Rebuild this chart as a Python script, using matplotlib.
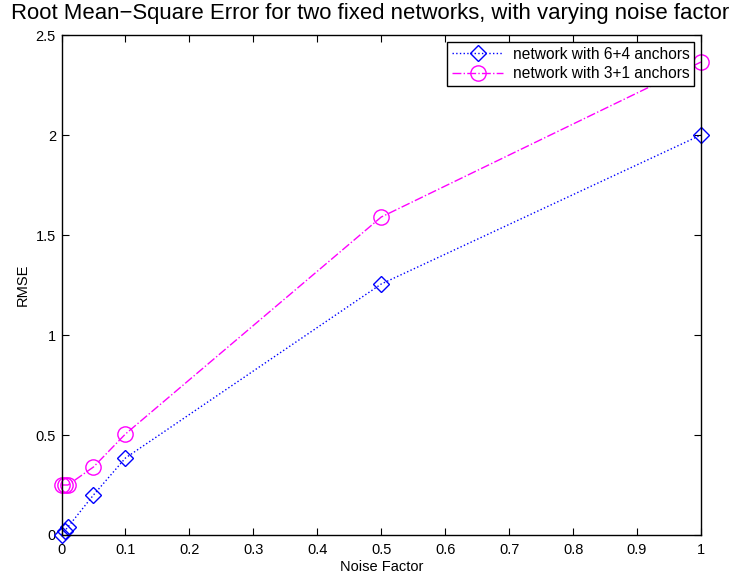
import matplotlib
matplotlib.use("Agg")
import matplotlib.pyplot as plt

plt.rcParams["font.family"] = ["Liberation Sans", "DejaVu Sans"]

# noise factors and RMSE for the two networks
noise = [0, 0.005, 0.01, 0.05, 0.1, 0.5, 1]
rmse_64 = [0.0, 0.02, 0.04, 0.2, 0.385, 1.255, 2.0]
rmse_31 = [0.25, 0.25, 0.25, 0.34, 0.505, 1.59, 2.365]

fig = plt.figure(figsize=(7.41, 5.77), dpi=100)
ax = fig.add_axes([0.083, 0.0728, 0.863, 0.8665])

ax.plot(noise, rmse_64, linestyle=":", color="blue", marker="D", markersize=8,
        markerfacecolor="none", markeredgecolor="blue", linewidth=1,
        clip_on=False, label="network with 6+4 anchors")
ax.plot(noise, rmse_31, linestyle="-.", color="magenta", marker="o", markersize=11,
        markerfacecolor="none", markeredgecolor="magenta", linewidth=1,
        clip_on=False, label="network with 3+1 anchors")

ax.set_xlim(0, 1)
ax.set_ylim(0, 2.5)
ax.set_xticks([i / 10 for i in range(11)])
ax.set_xticklabels(["0", "0.1", "0.2", "0.3", "0.4", "0.5", "0.6", "0.7", "0.8", "0.9", "1"])
ax.set_yticks([0, 0.5, 1, 1.5, 2, 2.5])
ax.set_yticklabels(["0", "0.5", "1", "1.5", "2", "2.5"])
ax.tick_params(direction="in", top=True, right=True, labelsize=10.5, length=5)
ax.tick_params(axis="x", pad=6)
ax.tick_params(axis="y", pad=4)
for s in ax.spines.values():
    s.set_linewidth(1)

ax.set_xlabel("Noise Factor", fontsize=10.5, labelpad=2)
ax.set_ylabel("RMSE", fontsize=10.5, labelpad=4)
fig.suptitle("Root Mean\u2212Square Error for two fixed networks, with varying noise factor",
             fontsize=15.9, x=0.5, y=0.995, va="top")

leg = ax.legend(loc="upper right", fontsize=11.2, fancybox=False, framealpha=1,
                edgecolor="black", borderaxespad=0.45, handlelength=3.3,
                borderpad=0.3, labelspacing=0.3, handletextpad=0.6)
leg.get_frame().set_linewidth(1)

fig.savefig("out.png", dpi=100)
